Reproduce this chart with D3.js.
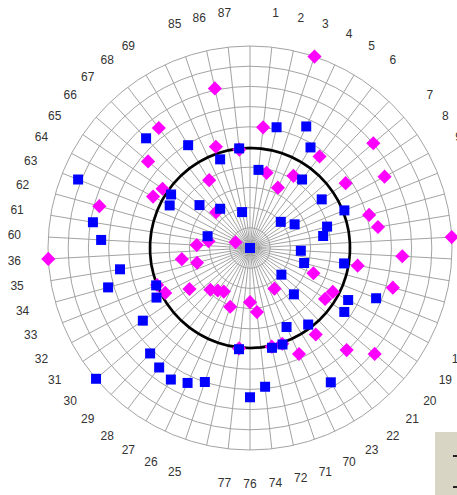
<!DOCTYPE html>
<html><head><meta charset="utf-8">
<script src="https://cdn.jsdelivr.net/npm/d3@7"></script>
<style>html,body{margin:0;padding:0;background:#fff;overflow:hidden}</style>
</head><body>
<svg id="chart" width="457" height="495"></svg>
<script>
// Category labels (58 spokes, clockwise from top; "" = unlabeled spoke)
const categories = ["","1","2","3","4","5","6","","7","8","9","10","11","12","13","14","15","16","17","18","19","20","21","22","23","70","71","72","74","76","77","","25","26","27","28","29","30","31","32","33","34","35","36","60","61","62","63","64","65","66","67","68","69","","85","86","87"];
// Blue squares series
const blueValues = [null,3.89,6.12,0,6.63,5.81,4.26,null,2.0,4.29,2.5,5.03,3.96,3.67,null,2.52,4.72,2.78,6.72,5.5,5.64,2.04,3.16,4.76,7.76,4.31,5.04,5.06,6.91,7.39,5.04,null,7.0,7.36,7.6,7.43,7.19,10.0,6.41,5.24,5.0,7.29,6.52,null,7.38,7.88,2.18,9.16,4.5,4.72,3.28,7.48,2.44,5.94,null,4.63,1.82,4.96];
// Magenta diamonds series
const magentaValues = [null,6.01,3.81,10,3.29,4.17,5.69,null,8.01,5.72,7.54,null,6.12,6.42,10,7.55,5.4,7.34,3.38,4.64,4.49,8.1,6.96,5.38,2.35,5.78,5.0,5.0,3.19,2.68,5.0,null,3.07,null,2.52,2.64,2.85,null,3.62,4.75,4.95,2.72,3.42,10,2.64,2.08,7.74,0.77,5.43,5.23,6.62,2.44,7.46,3.92,null,5.29,8.09,4.9];
// Reference ring (black circle)
const referenceLevel = 4.95;
const ringTicks = [1,2,3,4,5,6,7,8,9,10];

const cx = 250, cy = 248, R = 202;
const svg = d3.select("#chart");
const g = svg.append("g").attr("transform", `translate(${cx},${cy})`);

const n = categories.length;
const angle = d3.scaleLinear().domain([0, n]).range([0, 2*Math.PI]);
const rScale = d3.scaleLinear().domain([0, 10]).range([0, R]);
const px = (i, v) => rScale(v) * Math.sin(angle(i));
const py = (i, v) => -rScale(v) * Math.cos(angle(i));

// rings
g.selectAll("circle.ring").data(ringTicks).join("circle")
  .attr("class","ring").attr("r", d => rScale(d))
  .attr("fill","none").attr("stroke","#a3a3a3").attr("stroke-width",1);
// spokes
g.selectAll("line.spoke").data(d3.range(n)).join("line")
  .attr("x1",0).attr("y1",0)
  .attr("x2", i => px(i,10)).attr("y2", i => py(i,10))
  .attr("stroke","#a3a3a3").attr("stroke-width",1);

// reference line (closed radial line)
const refLine = d3.lineRadial().angle(i => angle(i)).radius(() => rScale(referenceLevel)).curve(d3.curveLinearClosed);
g.append("path").attr("d", refLine(d3.range(n)))
  .attr("fill","none").attr("stroke","#000").attr("stroke-width",2.6);

// labels
g.selectAll("text.cat").data(categories.map((c,i)=>({c,i}))).join("text")
  .attr("class","cat")
  .attr("x", d => 236*Math.sin(angle(d.i)))
  .attr("y", d => -236*Math.cos(angle(d.i)))
  .attr("text-anchor","middle").attr("dominant-baseline","central")
  .attr("font-family","Liberation Sans, Arial, sans-serif").attr("font-size",12)
  .attr("fill","#333").text(d => d.c);

// magenta diamonds
const diamond = d3.symbol().type(d3.symbolSquare).size(100);
g.selectAll("path.mag").data(magentaValues.map((v,i)=>({v,i})).filter(d=>d.v!==null)).join("path")
  .attr("class","mag").attr("d", diamond)
  .attr("transform", d => `translate(${px(d.i,d.v)},${py(d.i,d.v)}) rotate(45)`)
  .attr("fill","#ff00ff");

// blue squares
const square = d3.symbol().type(d3.symbolSquare).size(100);
g.selectAll("path.blue").data(blueValues.map((v,i)=>({v,i})).filter(d=>d.v!==null)).join("path")
  .attr("class","blue").attr("d", square)
  .attr("transform", d => `translate(${px(d.i,d.v)},${py(d.i,d.v)})`)
  .attr("fill","#0000ff");

// partially visible legend box at bottom right
const legend = svg.append("g").attr("transform","translate(435,432)");
legend.append("rect").attr("width",40).attr("height",70).attr("fill","#d9d5c5");
legend.selectAll("rect.key").data(["a","b"]).join("rect").attr("class","key")
  .attr("x",18).attr("y",(d,i)=>23+i*31).attr("width",4).attr("height",2).attr("fill","#222");
</script>
</body></html>
